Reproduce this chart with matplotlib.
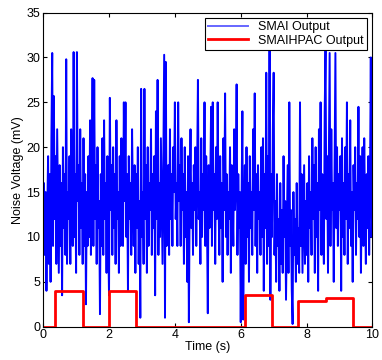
import numpy as np
import matplotlib.pyplot as plt

plt.rcParams['font.family'] = ['Liberation Sans', 'DejaVu Sans']

# SMAI output, sampled every 0.025 s (one row per second)
smai = [
    12, 16, 8, 15, 4, 13, 19, 7, 17, 5, 21, 30.5, 9, 25.7, 12, 19, 7, 22, 14, 6,
    18, 9, 16, 3.5, 20, 11, 17, 8, 29.8, 7, 15, 12, 19, 7, 22, 13, 9, 30.6, 10, 17,
    6, 30.6, 14, 18, 8, 22, 11, 16, 7, 21, 9, 17, 2.5, 15, 9, 19, 10, 23, 8, 16,
    27.7, 9, 27.5, 12, 18, 7, 20, 11, 14, 1.4, 17, 9, 21, 8, 23, 12, 16, 6, 19, 10,
    3.5, 25.5, 13, 18, 8, 20, 11, 17, 7, 23, 12, 15, 6, 19, 9, 21, 13, 9, 25, 14,
    25, 10, 17, 4, 19, 12, 16, 8, 22, 14, 9, 18, 6, 17, 11, 20, 7, 14, 1, 26.5,
    10, 15, 7, 26.5, 12, 18, 6, 20, 9, 16, 13, 22, 8, 17, 11, 19, 3.5, 24, 12, 27.5,
    8, 16, 10, 21, 14, 7, 18, 30.3, 1, 29.5, 9, 14, 18, 8, 22, 12, 17, 9, 20, 15,
    25, 12, 16, 9, 25, 14, 18, 9, 21, 13, 17, 7, 20, 10, 15, 5, 19, 0.5, 14, 22,
    11, 16, 8, 18, 13, 20, 9, 17, 27.5, 12, 15, 7, 21, 10, 17, 13, 25, 9, 19, 12,
    1.5, 18, 11, 16, 24.5, 9, 25, 13, 17, 7, 20, 12, 25, 14, 8, 19, 11, 16, 5, 21,
    13, 26, 10, 17, 8, 15, 12, 20, 6, 18, 14, 9, 22, 13, 16, 27, 8, 17, 11, 15,
    0.5, 14, 24, 0.8, 12, 18, 7, 20, 10, 16, 5, 19, 11, 15, 8, 22, 13, 26, 9, 17,
    6, 18, 12, 15, 8, 20, 10, 21, 4, 17, 11, 28.3, 7, 19, 9, 30.8, 3, 17, 10, 22,
    28.3, 8, 14, 5, 17, 9, 12, 4, 16, 7, 13, 6, 19, 10, 14, 3, 11, 18, 6, 25,
    9, 13, 4, 0.3, 15, 8, 12, 5, 16, 7, 11, 6, 25, 9, 17, 6, 12, 18, 7, 14,
    8, 16, 5, 19, 11, 15, 8, 21, 12, 18, 6, 20, 10, 16, 4, 22, 13, 25, 8, 17,
    11, 7, 24, 31, 12, 19, 6, 18, 30.5, 9, 22, 13, 16, 5, 18, 30.5, 11, 20, 9, 17,
    13, 19, 4, 21, 10, 16, 8, 20, 12, 25, 7, 17, 11, 23, 9, 15, 5, 18, 13, 20,
    8, 16, 12, 24.5, 10, 19, 6, 14, 20, 9, 21, 13, 7, 17, 11, 19, 8, 16, 30, 10,
    14,
]
t_smai = np.linspace(0, 10, len(smai))

# SMAIHPAC output (step changes)
hpac_t = [0, 0.37, 0.37, 1.2, 1.2, 2.0, 2.0, 2.82, 2.82, 6.12, 6.12, 6.95, 6.95,
          7.75, 7.75, 8.6, 8.6, 9.4, 9.4, 10]
hpac_v = [0, 0, 4, 4, 0, 0, 4, 4, 0, 0, 3.5, 3.5, 0, 0, 2.9, 2.9, 3.2, 3.2, 0, 0]

fig = plt.figure(figsize=(3.82, 3.60), dpi=100)
ax = fig.add_axes([0.113, 0.0925, 0.862, 0.8725])

ax.plot(t_smai, smai, color='#0000ff', linewidth=1.4, label='SMAI Output')
ax.plot(hpac_t, hpac_v, color='#ff0000', linewidth=2.0, label='SMAIHPAC Output')

ax.set_xlim(0, 10)
ax.set_ylim(0, 35)
ax.set_xticks(range(0, 11, 2))
ax.set_yticks(range(0, 36, 5))
ax.tick_params(direction='in', top=True, right=True, labelsize=9, length=3, pad=2)
ax.set_xlabel('Time (s)', fontsize=9, labelpad=0)
ax.set_ylabel('Noise Voltage (mV)', fontsize=9, labelpad=2)

leg = ax.legend(loc='upper right', fontsize=9, fancybox=False, framealpha=1,
                edgecolor='black', borderaxespad=0.45, borderpad=0.25,
                handlelength=3.2, labelspacing=0.1)
leg.get_frame().set_linewidth(0.8)
leg.get_lines()[0].set_color('#6666ff')

fig.savefig('out.png', dpi=100)
